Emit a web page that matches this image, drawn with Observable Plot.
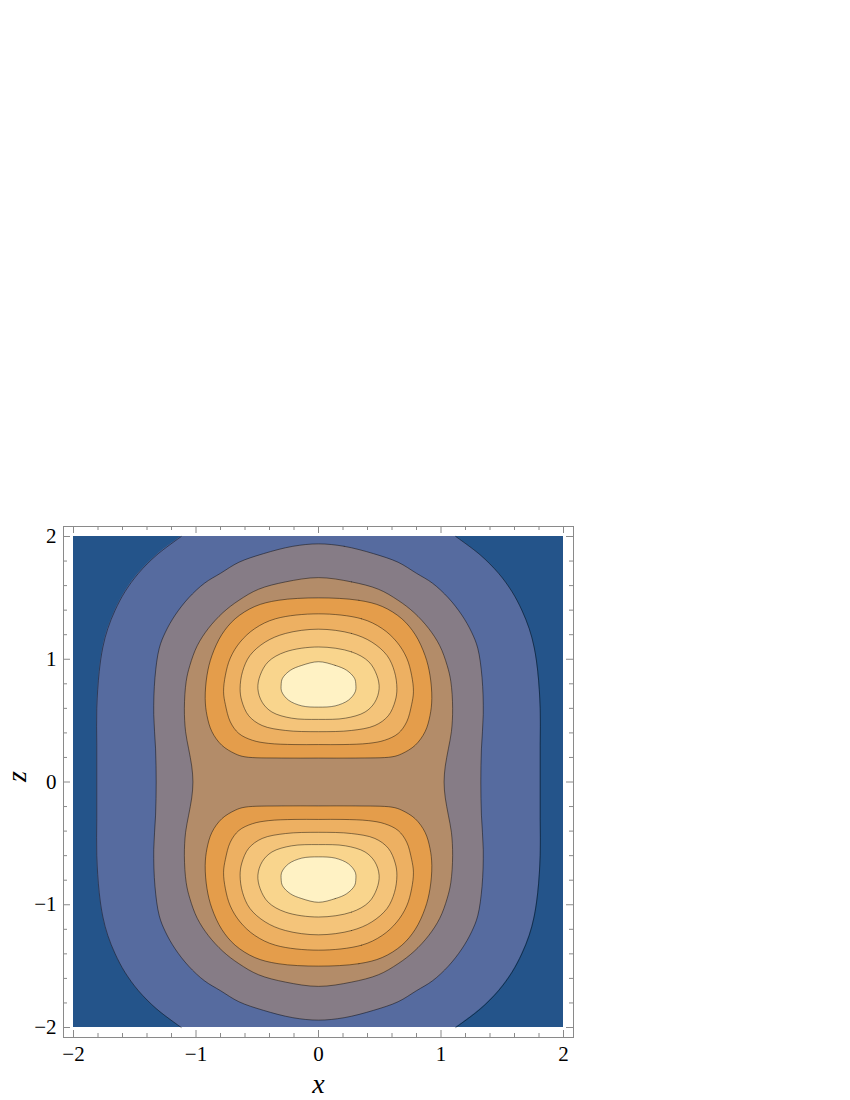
<!DOCTYPE html>
<html>
<head>
<meta charset="utf-8">
<script src="https://cdn.jsdelivr.net/npm/d3@7"></script>
<script src="https://cdn.jsdelivr.net/npm/@observablehq/plot@0.6"></script>
<style>
  html, body { margin: 0; padding: 0; background: #fff; }
</style>
</head>
<body>
<div id="chart"></div>
<script>
// ---- axes ----
const xDomain = [-2, 2];
const zDomain = [-2, 2];
const majorTicks = [-2, -1, 0, 1, 2];
const majorTickLabels = ["−2", "−1", "0", "1", "2"];
const minorTicks = [-1.8, -1.6, -1.4, -1.2, -0.8, -0.6, -0.4, -0.2, 0.2, 0.4, 0.6, 0.8, 1.2, 1.4, 1.6, 1.8];
const xLabel = "x";
const zLabel = "z";

// ---- contour traces (quadrant x>=0, z>=0) as [x, z] ----
// outer contour: open curve from top edge (z=2) down to z=0
const contour1 = [[1.12, 2.0], [1.32, 1.85], [1.47, 1.7], [1.58, 1.55], [1.66, 1.4], [1.72, 1.25], [1.76, 1.1], [1.79, 0.9], [1.81, 0.6], [1.81, 0.3], [1.81, 0]];
// closed contours around both lobes: from top (x=0) to z=0
const contour2 = [[0, 1.94], [0.21, 1.92], [0.45, 1.86], [0.65, 1.79], [0.80, 1.70], [0.93, 1.62], [1.06, 1.50], [1.17, 1.36], [1.25, 1.22], [1.30, 1.09], [1.335, 0.85], [1.345, 0.55], [1.33, 0.27], [1.325, 0]];
const contour3 = [[0, 1.665], [0.27, 1.63], [0.49, 1.57], [0.65, 1.48], [0.78, 1.38], [0.90, 1.25], [0.99, 1.11], [1.05, 0.95], [1.08, 0.82], [1.095, 0.6], [1.085, 0.41], [1.06, 0.27], [1.035, 0.13], [1.025, 0]];
// lobe contours (upper lobe, right half): from lobe top (x=0) to lobe bottom (x=0)
const contour4 = [[0, 1.50], [0.33, 1.48], [0.52, 1.43], [0.68, 1.33], [0.79, 1.20], [0.87, 1.03], [0.91, 0.87], [0.925, 0.68], [0.91, 0.54], [0.87, 0.41], [0.79, 0.30], [0.68, 0.23], [0.60, 0.205], [0.3, 0.195], [0, 0.195]];
const contour5 = [[0, 1.37], [0.35, 1.33], [0.52, 1.25], [0.64, 1.14], [0.72, 1.01], [0.76, 0.87], [0.775, 0.735], [0.76, 0.63], [0.72, 0.49], [0.65, 0.395], [0.54, 0.34], [0.41, 0.315], [0.2, 0.305], [0, 0.305]];
const contour6 = [[0, 1.245], [0.27, 1.21], [0.435, 1.14], [0.56, 1.03], [0.62, 0.90], [0.64, 0.76], [0.626, 0.66], [0.57, 0.54], [0.46, 0.46], [0.27, 0.42], [0, 0.41]];
const contour7 = [[0, 1.10], [0.27, 1.06], [0.41, 0.98], [0.476, 0.87], [0.495, 0.76], [0.46, 0.65], [0.38, 0.57], [0.22, 0.52], [0, 0.51]];
const contour8 = [[0, 0.98], [0.136, 0.95], [0.23, 0.91], [0.294, 0.845], [0.305, 0.79], [0.30, 0.735], [0.245, 0.667], [0.136, 0.62], [0, 0.61]];

// ---- band colours, from outside in ----
const bandColors = ["#24548A", "#566B9F", "#867C86", "#B38C69", "#E49D4B", "#EDB062", "#F4C47A", "#F9D58D", "#FFF2C4"];
const lineColor = "#000";
const frameColor = "#8a8a8a";

// ---- build symmetric shapes from the quadrant traces ----
function fullLoop(q, id) {
  const pts = [];
  q.forEach(([x, z]) => pts.push([x, z]));
  q.slice(0, -1).reverse().forEach(([x, z]) => pts.push([x, -z]));
  q.slice(1).forEach(([x, z]) => pts.push([-x, -z]));
  q.slice(1, -1).reverse().forEach(([x, z]) => pts.push([-x, z]));
  return pts.map(([x, z]) => ({x, z, loop: id}));
}
function lobeLoop(h, sign, id) {
  const pts = [];
  h.forEach(([x, z]) => pts.push([x, z]));
  h.slice(1, -1).reverse().forEach(([x, z]) => pts.push([-x, z]));
  return pts.map(([x, z]) => ({x, z: sign * z, loop: id}));
}
const outerCurve = contour1.concat(contour1.slice(0, -1).reverse().map(([x, z]) => [x, -z]))
  .map(([x, z]) => ({x, z}));

const loops = [
  fullLoop(contour2, "c2"),
  fullLoop(contour3, "c3"),
  ...[contour4, contour5, contour6, contour7, contour8].map((c, i) =>
    lobeLoop(c, 1, "u" + i).concat(lobeLoop(c, -1, "l" + i)))
];

const W = 850, H = 1100;
const mLeft = 63, mRight = 277, mTop = 526, mBottom = 63;
const innerW = W - mLeft - mRight, innerH = H - mTop - mBottom;
const serif = "'Liberation Serif', 'DejaVu Serif', serif";
const lineStyle = {stroke: lineColor, strokeOpacity: 0.45, strokeWidth: 1};

const marks = [
  Plot.rect([0], {x1: xDomain[0], x2: xDomain[1], y1: zDomain[0], y2: zDomain[1], fill: bandColors[1]}),
  Plot.areaX(outerCurve, {y: "z", x1: xDomain[0], x2: d => -d.x, fill: bandColors[0], curve: "catmull-rom"}),
  Plot.areaX(outerCurve, {y: "z", x1: xDomain[1], x2: d => d.x, fill: bandColors[0], curve: "catmull-rom"}),
  Plot.line(outerCurve, {x: d => -d.x, y: "z", curve: "catmull-rom", ...lineStyle}),
  Plot.line(outerCurve, {x: "x", y: "z", curve: "catmull-rom", ...lineStyle}),
  ...loops.map((pts, i) => Plot.line(pts, {x: "x", y: "z", z: "loop", fill: bandColors[i + 2], curve: "catmull-rom-closed", ...lineStyle})),
  Plot.frame({stroke: frameColor, strokeWidth: 1}),
  // inward ticks on all four sides
  Plot.tickX(majorTicks, {x: d => d, stroke: frameColor, insetTop: innerH - 7}),
  Plot.tickX(minorTicks, {x: d => d, stroke: frameColor, insetTop: innerH - 4}),
  Plot.tickX(majorTicks, {x: d => d, stroke: frameColor, insetBottom: innerH - 7}),
  Plot.tickX(minorTicks, {x: d => d, stroke: frameColor, insetBottom: innerH - 4}),
  Plot.tickY(majorTicks, {y: d => d, stroke: frameColor, insetRight: innerW - 7}),
  Plot.tickY(minorTicks, {y: d => d, stroke: frameColor, insetRight: innerW - 4}),
  Plot.tickY(majorTicks, {y: d => d, stroke: frameColor, insetLeft: innerW - 7}),
  Plot.tickY(minorTicks, {y: d => d, stroke: frameColor, insetLeft: innerW - 4}),
  // tick labels
  Plot.text(majorTicks, {x: d => d, text: (d, i) => majorTickLabels[i], frameAnchor: "bottom", lineAnchor: "top", dy: 9, fontSize: 21, fontFamily: serif, fill: "#000"}),
  Plot.text(majorTicks, {y: d => d, text: (d, i) => majorTickLabels[i], frameAnchor: "left", textAnchor: "end", dx: -7, fontSize: 21, fontFamily: serif, fill: "#000"}),
  // axis labels
  Plot.text([xLabel], {x: [0], text: d => d, frameAnchor: "bottom", lineAnchor: "middle", dy: 47, fontSize: 28, fontStyle: "italic", fontFamily: serif, fill: "#000"}),
  Plot.text([zLabel], {y: [0], text: d => d, frameAnchor: "left", lineAnchor: "middle", dx: -46, rotate: -90, fontSize: 28, fontStyle: "italic", fontFamily: serif, fill: "#000"})
];

const chart = Plot.plot({
  width: W,
  height: H,
  marginLeft: mLeft,
  marginRight: mRight,
  marginTop: mTop,
  marginBottom: mBottom,
  x: {domain: xDomain, inset: 10, axis: null},
  y: {domain: zDomain, inset: 10, axis: null},
  style: {background: "#fff"},
  marks
});
document.getElementById("chart").appendChild(chart);
</script>
</body>
</html>
